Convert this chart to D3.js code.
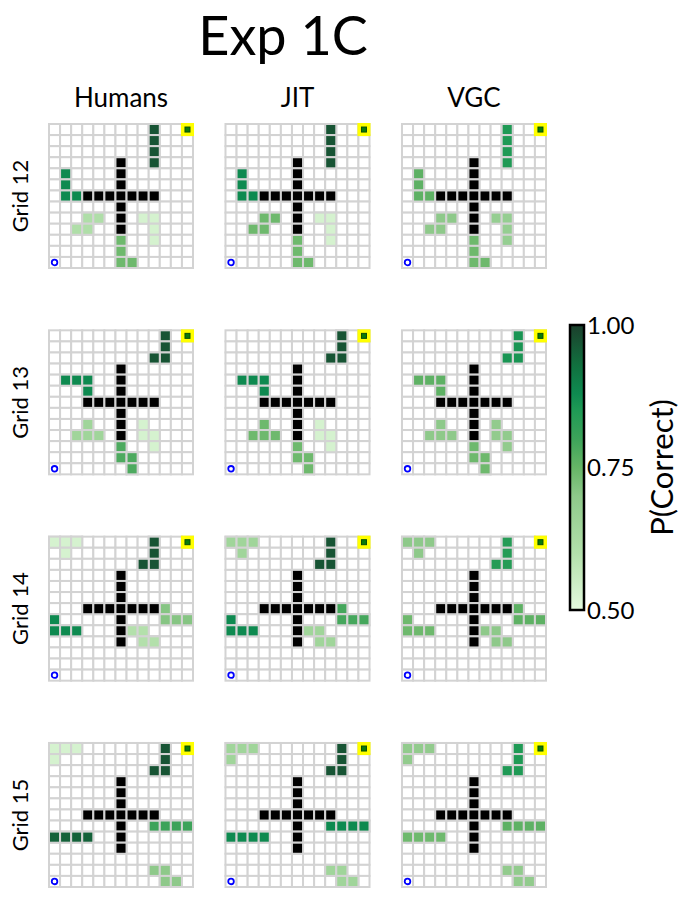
<!DOCTYPE html>
<html>
<head>
<meta charset="utf-8">
<script src="https://cdn.jsdelivr.net/npm/d3@7"></script>
<style>
  body { margin: 0; background: #fff; }
  text { font-family: Lato, "Open Sans", sans-serif; fill: #000; }
</style>
</head>
<body>
<script>
// ---- data ----
var models = ["Humans", "JIT", "VGC"];
var gridNames = ["Grid 12", "Grid 13", "Grid 14", "Grid 15"];
var cbTicks = [0.5, 0.75, 1.0];
var nCells = 13;
var goalCell = [12, 0];
var startCell = [0, 12];

// black walls (same cross in all grids)
var wallCells = [[6,3],[6,4],[6,5],[3,6],[4,6],[5,6],[6,6],[7,6],[8,6],[9,6],[6,7],[6,8],[6,9]];

// shapes for each grid, cells as [col, row]
var shapes12 = [[[9,0],[9,1],[9,2],[9,3]], [[1,4],[1,5],[1,6],[2,6]], [[3,8],[4,8],[2,9],[3,9]], [[8,8],[9,8],[9,9],[9,10]], [[6,10],[6,11],[6,12],[7,12]]];
var shapes13 = [[[10,0],[10,1],[10,2],[9,2]], [[1,4],[2,4],[3,4],[3,5]], [[3,8],[2,9],[3,9],[4,9]], [[8,8],[8,9],[9,9],[9,10]], [[6,10],[6,11],[7,11],[7,12]]];
var shapes14 = [[[0,0],[1,0],[2,0],[1,1]], [[9,0],[9,1],[9,2],[8,2]], [[10,6],[10,7],[11,7],[12,7]], [[0,7],[0,8],[1,8],[2,8]], [[7,8],[8,8],[8,9],[9,9]]];
var shapes15 = [[[0,0],[1,0],[2,0],[0,1]], [[10,0],[10,1],[10,2],[9,2]], [[9,7],[10,7],[11,7],[12,7]], [[0,8],[1,8],[2,8],[3,8]], [[9,11],[10,11],[10,12],[11,12]]];
var shapes = [shapes12, shapes13, shapes14, shapes15];

// P(correct) per shape, one row per grid
var humansP = [[0.97, 0.88, 0.61, 0.53, 0.74], [0.97, 0.88, 0.65, 0.53, 0.78], [0.53, 0.97, 0.71, 0.88, 0.60], [0.53, 0.97, 0.80, 0.95, 0.70]];
var jitP    = [[0.97, 0.88, 0.74, 0.53, 0.74], [0.97, 0.88, 0.74, 0.53, 0.74], [0.65, 0.97, 0.79, 0.88, 0.65], [0.65, 0.97, 0.88, 0.88, 0.65]];
var vgcP    = [[0.85, 0.76, 0.70, 0.68, 0.74], [0.86, 0.76, 0.70, 0.69, 0.74], [0.70, 0.84, 0.76, 0.74, 0.70], [0.69, 0.85, 0.76, 0.74, 0.69]];
var modelP = [humansP, jitP, vgcP];

var w = 698, h = 907;

var svg = d3.select("body").append("svg").attr("width", w).attr("height", h);

// colour map
var color = d3.scaleLinear()
    .domain([0.5, 0.6, 0.7, 0.75, 0.8, 0.85, 0.88, 0.93, 1.0])
    .range(["#e4fade", "#b3e0ab", "#8ec98a", "#66b566", "#3da35a", "#1f9a55", "#0e8a50", "#11703f", "#1c3f2c"])
    .clamp(true);

// layout scales
var colScale = d3.scaleBand().domain(models).range([49, 546]).paddingInner(0.184);
var rowScale = d3.scaleBand().domain(gridNames).range([124, 887]).paddingInner(0.302);
var cell = d3.scaleBand().domain(d3.range(nCells)).range([0, colScale.bandwidth()]);
var cs = cell.bandwidth();

//title
svg.append("text").attr("x", 283).attr("y", 55).attr("text-anchor", "middle")
    .attr("font-size", 54).text("Exp 1C");

// column titles
svg.selectAll(".coltitle").data(models).enter().append("text")
    .attr("class", "coltitle")
    .attr("x", d => colScale(d) + colScale.bandwidth() / 2)
    .attr("y", 107).attr("text-anchor", "middle").attr("font-size", 26)
    .text(d => d);

// row titles
svg.selectAll(".rowtitle").data(gridNames).enter().append("text")
    .attr("class", "rowtitle")
    .attr("transform", d => "translate(28," + (rowScale(d) + rowScale.bandwidth() / 2) + ") rotate(-90)")
    .attr("text-anchor", "middle").attr("font-size", 22)
    .text(d => d);

// grids
gridNames.forEach(function (gname, gi) {
    models.forEach(function (m, mi) {
        var g = svg.append("g")
            .attr("transform", "translate(" + colScale(m) + "," + rowScale(gname) + ")");

        var all = [];
        d3.range(nCells).forEach(function (r) {
            d3.range(nCells).forEach(function (c) { all.push([c, r]); });
        });
        g.selectAll(".bg").data(all).enter().append("rect").attr("class", "bg")
            .attr("x", d => cell(d[0])).attr("y", d => cell(d[1]))
            .attr("width", cs).attr("height", cs)
            .attr("fill", "#fff").attr("stroke", "#d3d3d3").attr("stroke-width", 2);

        // coloured shapes
        var filled = [];
        shapes[gi].forEach(function (shape, si) {
            shape.forEach(function (c) { filled.push({ c: c[0], r: c[1], p: modelP[mi][gi][si] }); });
        });
        g.selectAll(".shape").data(filled).enter().append("rect").attr("class", "shape")
            .attr("x", d => cell(d.c)).attr("y", d => cell(d.r))
            .attr("width", cs).attr("height", cs)
            .attr("fill", d => color(d.p)).attr("stroke", "#d3d3d3").attr("stroke-width", 2);

        // walls
        g.selectAll(".wall").data(wallCells).enter().append("rect").attr("class", "wall")
            .attr("x", d => cell(d[0])).attr("y", d => cell(d[1]))
            .attr("width", cs).attr("height", cs)
            .attr("fill", "#000").attr("stroke", "#d3d3d3").attr("stroke-width", 2);

        // goal
        g.append("rect")
            .attr("x", cell(goalCell[0]) - 1).attr("y", cell(goalCell[1]) - 1)
            .attr("width", cs + 2).attr("height", cs + 2).attr("fill", "#ffff00");
        g.append("rect")
            .attr("x", cell(goalCell[0]) + cs / 2 - 2.5).attr("y", cell(goalCell[1]) + cs / 2 - 2.5)
            .attr("width", 5).attr("height", 5)
            .attr("fill", "#0a7a0a").attr("stroke", "#064f06").attr("stroke-width", 1);

        // start
        g.append("circle")
            .attr("cx", cell(startCell[0]) + cs / 2).attr("cy", cell(startCell[1]) + cs / 2)
            .attr("r", 2.8).attr("fill", "#fff").attr("stroke", "#0000ff").attr("stroke-width", 1.8);
    });
});

// colorbar
var cbX = 570, cbW = 14;
var cbScale = d3.scaleLinear().domain([0.5, 1.0]).range([610, 325]);
var defs = svg.append("defs");
var grad = defs.append("linearGradient").attr("id", "cbgrad")
    .attr("x1", 0).attr("y1", 1).attr("x2", 0).attr("y2", 0);
grad.selectAll("stop").data(d3.range(0, 1.0001, 0.02)).enter().append("stop")
    .attr("offset", d => d)
    .attr("stop-color", d => color(0.5 + d * 0.5));
svg.append("rect")
    .attr("x", cbX).attr("y", cbScale(1.0))
    .attr("width", cbW).attr("height", cbScale(0.5) - cbScale(1.0))
    .attr("fill", "url(#cbgrad)").attr("stroke", "#000").attr("stroke-width", 2.5);

svg.selectAll(".cbtick").data(cbTicks).enter().append("text")
    .attr("class", "cbtick")
    .attr("x", 587).attr("y", d => cbScale(d))
    .attr("dy", "0.36em").attr("font-size", 24)
    .text(d => d3.format(".2f")(d));

svg.append("text")
    .attr("transform", "translate(673," + cbScale(0.75) + ") rotate(-90)")
    .attr("text-anchor", "middle").attr("font-size", 31)
    .text("P(Correct)");
</script>
</body>
</html>
